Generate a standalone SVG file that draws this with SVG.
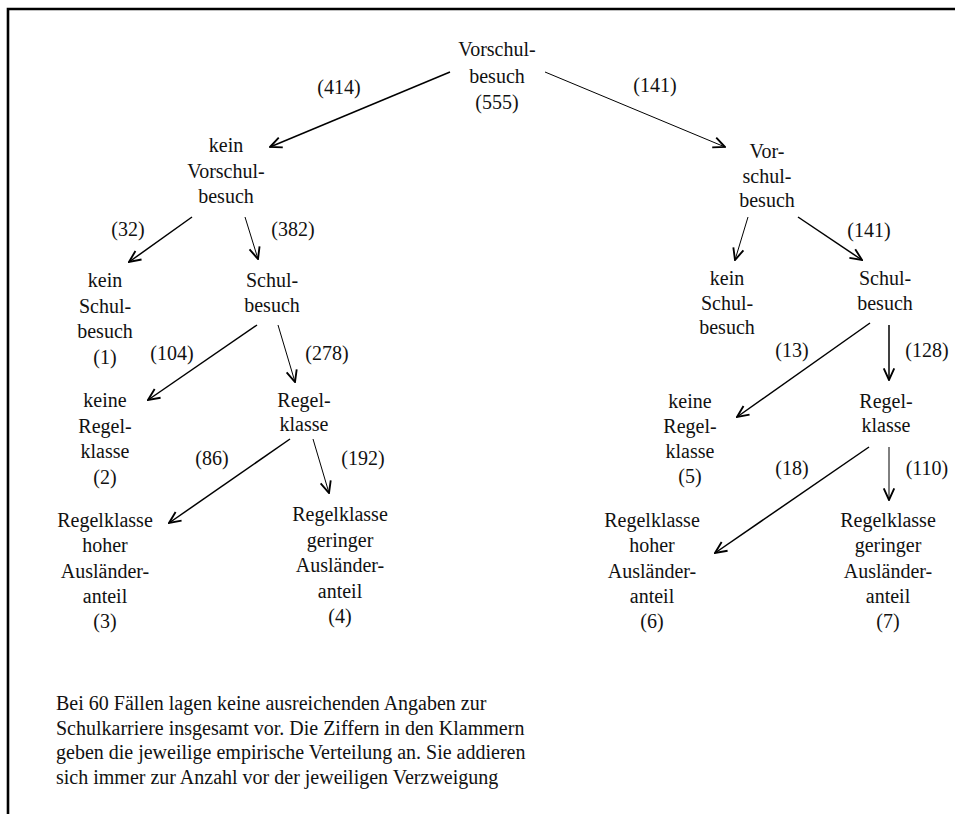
<svg xmlns="http://www.w3.org/2000/svg" width="955" height="814" viewBox="0 0 955 814">
<style>
text{font-family:"Liberation Serif","Times New Roman",serif;font-size:20px;fill:#111;text-anchor:middle}
.fn{text-anchor:start}
.e{stroke:#000;fill:none;marker-end:url(#ah)}
.t{stroke-width:1.5}
.n{stroke-width:1}
</style>
<defs>
<marker id="ah" markerUnits="userSpaceOnUse" markerWidth="14" markerHeight="14" viewBox="0 0 12 12" refX="11" refY="6" orient="auto">
<path d="M1,1.5 L11,6 L1,10.5" fill="none" stroke="#000" stroke-width="1.6"/>
</marker>
</defs>
<rect width="955" height="814" fill="#fff"/>
<path d="M8,814 V9 H955" fill="none" stroke="#000" stroke-width="2.6"/>

<g id="n0"><text x="497" y="56">Vorschul-<tspan x="497" dy="26.5">besuch</tspan><tspan x="497" dy="26.5">(555)</tspan></text></g>
<g id="n1"><text x="226" y="152">kein<tspan x="226" dy="25.5">Vorschul-</tspan><tspan x="226" dy="25.5">besuch</tspan></text></g>
<g id="n2"><text x="767" y="158">Vor-<tspan x="767" dy="24.5">schul-</tspan><tspan x="767" dy="24.5">besuch</tspan></text></g>
<g id="n3"><text x="105" y="287">kein<tspan x="105" dy="25.5">Schul-</tspan><tspan x="105" dy="25.5">besuch</tspan><tspan x="105" dy="25.5">(1)</tspan></text></g>
<g id="n4"><text x="272" y="287">Schul-<tspan x="272" dy="25">besuch</tspan></text></g>
<g id="n5"><text x="727" y="285">kein<tspan x="727" dy="24.5">Schul-</tspan><tspan x="727" dy="24.5">besuch</tspan></text></g>
<g id="n6"><text x="885" y="285">Schul-<tspan x="885" dy="25">besuch</tspan></text></g>
<g id="n7"><text x="105" y="407">keine<tspan x="105" dy="25.5">Regel-</tspan><tspan x="105" dy="25.5">klasse</tspan><tspan x="105" dy="25.5">(2)</tspan></text></g>
<g id="n8"><text x="304" y="407">Regel-<tspan x="304" dy="24">klasse</tspan></text></g>
<g id="n9"><text x="690" y="408">keine<tspan x="690" dy="25">Regel-</tspan><tspan x="690" dy="25">klasse</tspan><tspan x="690" dy="25">(5)</tspan></text></g>
<g id="n10"><text x="886" y="408">Regel-<tspan x="886" dy="24">klasse</tspan></text></g>
<g id="n11"><text x="105" y="527">Regelklasse<tspan x="105" dy="25.3">hoher</tspan><tspan x="105" dy="25.3">Ausländer-</tspan><tspan x="105" dy="25.3">anteil</tspan><tspan x="105" dy="25.3">(3)</tspan></text></g>
<g id="n12"><text x="340" y="521">Regelklasse<tspan x="340" dy="25.5">geringer</tspan><tspan x="340" dy="25.5">Ausländer-</tspan><tspan x="340" dy="25.5">anteil</tspan><tspan x="340" dy="25.5">(4)</tspan></text></g>
<g id="n13"><text x="652" y="527">Regelklasse<tspan x="652" dy="25.3">hoher</tspan><tspan x="652" dy="25.3">Ausländer-</tspan><tspan x="652" dy="25.3">anteil</tspan><tspan x="652" dy="25.3">(6)</tspan></text></g>
<g id="n14"><text x="888" y="527">Regelklasse<tspan x="888" dy="25.3">geringer</tspan><tspan x="888" dy="25.3">Ausländer-</tspan><tspan x="888" dy="25.3">anteil</tspan><tspan x="888" dy="25.3">(7)</tspan></text></g>

<g id="connectors">
<line class="e t" x1="450" y1="72" x2="270" y2="147"/>
<line class="e n" x1="545" y1="72" x2="725" y2="147"/>
<line class="e t" x1="192" y1="217" x2="129" y2="262"/>
<line class="e n" x1="245" y1="217" x2="258" y2="259"/>
<line class="e n" x1="748" y1="217" x2="735" y2="260"/>
<line class="e t" x1="798" y1="217" x2="862" y2="260"/>
<line class="e t" x1="257" y1="325" x2="148" y2="400"/>
<line class="e n" x1="278" y1="325" x2="295" y2="382"/>
<line class="e t" x1="870" y1="323" x2="737" y2="417"/>
<line class="e t" x1="889" y1="325" x2="889" y2="380"/>
<line class="e t" x1="290" y1="439" x2="169" y2="523"/>
<line class="e n" x1="313" y1="439" x2="329" y2="493"/>
<line class="e t" x1="869" y1="447" x2="715" y2="553"/>
<line class="e n" x1="889" y1="447" x2="889" y2="500"/>
</g>

<g id="labels">
<text x="339" y="94">(414)</text>
<text x="655" y="92">(141)</text>
<text x="128" y="236">(32)</text>
<text x="293" y="236">(382)</text>
<text x="869" y="237">(141)</text>
<text x="172" y="360">(104)</text>
<text x="327" y="360">(278)</text>
<text x="792" y="357">(13)</text>
<text x="927" y="357">(128)</text>
<text x="212" y="465">(86)</text>
<text x="363" y="465">(192)</text>
<text x="792" y="475">(18)</text>
<text x="927" y="475">(110)</text>
</g>

<g id="footnote">
<text class="fn" x="56" y="710">Bei 60 Fällen lagen keine ausreichenden Angaben zur</text>
<text class="fn" x="56" y="734.5">Schulkarriere insgesamt vor. Die Ziffern in den Klammern</text>
<text class="fn" x="56" y="759">geben die jeweilige empirische Verteilung an. Sie addieren</text>
<text class="fn" x="56" y="783.5">sich immer zur Anzahl vor der jeweiligen Verzweigung</text>
</g>
</svg>
